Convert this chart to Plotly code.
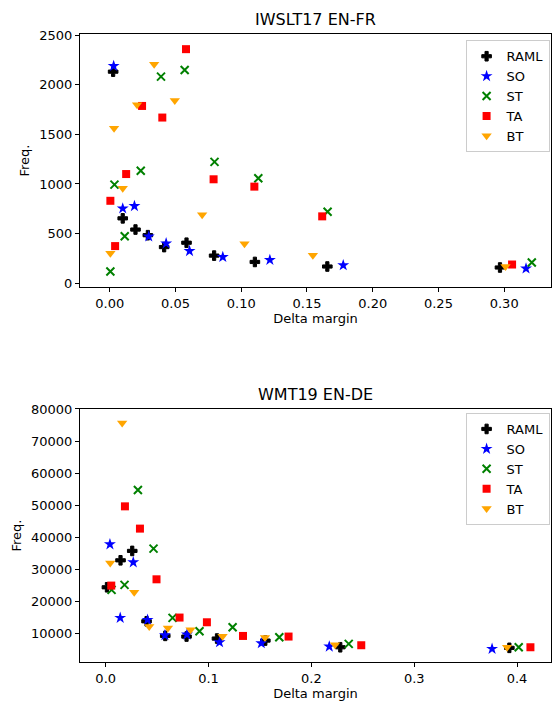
import plotly.graph_objects as go

# ---------------- data: IWSLT17 EN-FR ----------------
iw_raml_x = [0.0026, 0.0099, 0.0196, 0.0290, 0.0414, 0.0584, 0.0794, 0.1104, 0.1655, 0.2968]
iw_raml_y = [2133, 653, 540, 483, 363, 407, 277, 213, 167, 157]
iw_so_x = [0.0030, 0.0099, 0.0188, 0.0297, 0.0429, 0.0607, 0.0860, 0.1218, 0.1776, 0.3166]
iw_so_y = [2190, 753, 777, 470, 400, 323, 263, 233, 180, 147]
iw_st_x = [0.0005, 0.0036, 0.0114, 0.0236, 0.0390, 0.0570, 0.0797, 0.1130, 0.1657, 0.3210]
iw_st_y = [117, 993, 473, 1133, 2083, 2150, 1223, 1057, 720, 207]
iw_ta_x = [0.0005, 0.0041, 0.0125, 0.0246, 0.0400, 0.0580, 0.0790, 0.1100, 0.1616, 0.3060]
iw_ta_y = [830, 373, 1100, 1787, 1670, 2360, 1047, 973, 673, 187]
iw_bt_x = [0.0005, 0.0033, 0.0099, 0.0208, 0.0338, 0.0495, 0.0703, 0.1025, 0.1545, 0.3010]
iw_bt_y = [300, 1563, 957, 1800, 2207, 1843, 690, 397, 280, 167]

# ---------------- data: WMT19 EN-DE ----------------
wm_raml_x = [0.0012, 0.0144, 0.0258, 0.0397, 0.0579, 0.0786, 0.1082, 0.1552, 0.2281, 0.3925]
wm_raml_y = [24350, 32770, 35700, 13740, 9190, 8970, 8350, 7720, 5630, 5450]
wm_so_x = [0.0041, 0.0141, 0.0268, 0.0407, 0.0576, 0.0790, 0.1107, 0.1513, 0.2174, 0.3757]
wm_so_y = [37760, 14800, 32150, 14180, 9380, 9590, 7190, 6880, 5850, 5130]
wm_st_x = [0.0057, 0.0183, 0.0313, 0.0465, 0.0650, 0.0912, 0.1234, 0.1688, 0.2363, 0.4016]
wm_st_y = [23540, 25100, 54730, 36420, 14800, 10620, 11870, 8750, 6690, 5630]
wm_ta_x = [0.0054, 0.0187, 0.0333, 0.0494, 0.0718, 0.0984, 0.1335, 0.1778, 0.2485, 0.4130]
wm_ta_y = [24880, 49610, 42660, 26840, 14900, 13430, 9160, 8970, 6260, 5630]
wm_bt_x = [0.0044, 0.0160, 0.0277, 0.0423, 0.0605, 0.0825, 0.1136, 0.1549, 0.2230, 0.3903]
wm_bt_y = [31960, 75630, 22790, 12090, 11680, 11060, 9060, 8660, 6380, 5630]

series_names = ["RAML", "SO", "ST", "TA", "BT"]
titles = ["IWSLT17 EN-FR", "WMT19 EN-DE"]

styles = {
    "RAML": dict(symbol="cross", color="black", size=8),
    "SO": dict(symbol="star", color="blue", size=9),
    "ST": dict(symbol="x-thin", color="green", size=8),
    "TA": dict(symbol="square", color="red", size=8),
    "BT": dict(symbol="triangle-down", color="orange", size=9),
}

iw = {"RAML": (iw_raml_x, iw_raml_y), "SO": (iw_so_x, iw_so_y), "ST": (iw_st_x, iw_st_y),
      "TA": (iw_ta_x, iw_ta_y), "BT": (iw_bt_x, iw_bt_y)}
wm = {"RAML": (wm_raml_x, wm_raml_y), "SO": (wm_so_x, wm_so_y), "ST": (wm_st_x, wm_st_y),
      "TA": (wm_ta_x, wm_ta_y), "BT": (wm_bt_x, wm_bt_y)}

fig = go.Figure()
FONT = "DejaVu Sans"

def add_series(data, xaxis, yaxis, legend):
    for name in series_names:
        x, y = data[name]
        s = styles[name]
        if s["symbol"] == "x-thin":
            marker = dict(symbol="x-thin", size=s["size"], color=s["color"],
                          line=dict(color=s["color"], width=2))
        elif s["symbol"] == "cross":
            marker = dict(symbol="cross", size=s["size"], color=s["color"],
                          line=dict(color=s["color"], width=1))
        else:
            marker = dict(symbol=s["symbol"], size=s["size"], color=s["color"],
                          line=dict(width=0))
        fig.add_trace(go.Scatter(x=x, y=y, mode="markers", name=name, marker=marker,
                                 xaxis=xaxis, yaxis=yaxis, legend=legend))

add_series(iw, "x", "y", "legend")
add_series(wm, "x2", "y2", "legend2")

axis_common = dict(showline=True, linecolor="black", linewidth=1, mirror=True,
                   ticks="outside", ticklen=4, tickcolor="black", showgrid=False,
                   zeroline=False, tickfont=dict(family=FONT, size=13, color="black"))

legend_common = dict(x=0.997, xanchor="right", yanchor="top", bgcolor="rgba(255,255,255,0.8)",
                     bordercolor="#cccccc", borderwidth=1,
                     font=dict(family=FONT, size=13, color="black"), itemwidth=30,
                     tracegroupgap=0)

fig.update_layout(
    width=553, height=702,
    margin=dict(l=80, r=2, t=34, b=40),
    plot_bgcolor="white", paper_bgcolor="white",
    font=dict(family=FONT, color="black"),
    xaxis=dict(domain=[0, 1], anchor="y", range=[-0.0226, 0.3356], dtick=0.05, tick0=0,
               tickformat=".2f",
               title=dict(text="Delta margin", font=dict(family=FONT, size=13), standoff=4),
               **axis_common),
    yaxis=dict(domain=[0.5971, 1], anchor="x", range=[-40, 2513], dtick=500, tick0=0,
               title=dict(text="Freq.", font=dict(family=FONT, size=13), standoff=6),
               **axis_common),
    xaxis2=dict(domain=[0, 1], anchor="y2", range=[-0.025, 0.433], dtick=0.1, tick0=0,
                tickformat=".1f",
                title=dict(text="Delta margin", font=dict(family=FONT, size=13), standoff=4),
                **axis_common),
    yaxis2=dict(domain=[0, 0.4029], anchor="x2", range=[1030, 80000], dtick=10000, tick0=0,
                tickformat="d",
                title=dict(text="Freq.", font=dict(family=FONT, size=13), standoff=6),
                **axis_common),
    legend=dict(y=0.99, **legend_common),
    legend2=dict(y=0.3965, **legend_common),
    annotations=[
        dict(text=titles[0], xref="paper", yref="paper", x=0.5, y=1.0, yshift=3,
             xanchor="center", yanchor="bottom", showarrow=False,
             font=dict(family=FONT, size=16, color="black")),
        dict(text=titles[1], xref="paper", yref="paper", x=0.5, y=0.4029, yshift=3,
             xanchor="center", yanchor="bottom", showarrow=False,
             font=dict(family=FONT, size=16, color="black")),
    ],
)

fig.write_html("out.html", config={"displayModeBar": False},
               post_script="document.body.style.margin='0';document.body.style.overflow='hidden';")
